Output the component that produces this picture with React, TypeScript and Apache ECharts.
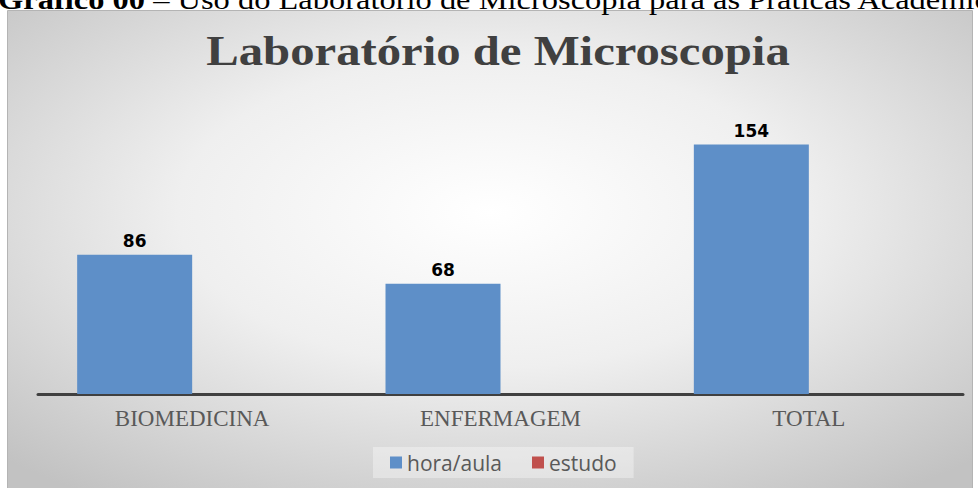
import React, { useEffect, useRef } from "react";
import * as echarts from "echarts";

const categories = ["BIOMEDICINA", "ENFERMAGEM", "TOTAL"];
const horaAula = [86, 68, 154];
const estudo: (number | null)[] = [null, null, null];
const seriesNames = ["hora/aula", "estudo"];
const chartTitle = "Laboratório de Microscopia";
const captionBold = "Gráfico 00";
const captionRest = " – Uso do Laboratório de Microscopia para as Práticas Acadêmicas";

export default function App() {
  const ref = useRef<HTMLDivElement>(null);
  useEffect(() => {
    document.body.style.margin = "0";
    const chart = echarts.init(ref.current!, null, { renderer: "svg" });
    chart.setOption({
      animation: false,
      backgroundColor: "#ffffff",
      graphic: [
        {
          type: "rect",
          z: -10,
          silent: true,
          shape: { x: 7.5, y: 10.5, width: 965, height: 480 },
          style: {
            fill: new echarts.graphic.RadialGradient(0.5, 0.42, 0.72, [
              { offset: 0, color: "#ffffff" },
              { offset: 0.45, color: "#efefef" },
              { offset: 1, color: "#c2c2c2" },
            ]),
            stroke: "#b4b4b4",
            lineWidth: 1,
          },
        },
        {
          type: "text",
          x: -2,
          y: 0,
          scaleX: 1.16,
          style: {
            rich: {
              b: { font: "bold 28px 'Liberation Serif'", fill: "#000" },
              n: { font: "28px 'Liberation Serif'", fill: "#000" },
            },
            text: `{b|${captionBold}}{n|${captionRest}}`,
            align: "left",
            verticalAlign: "middle",
          },
        },
        {
          type: "text",
          x: 498,
          y: 51,
          scaleX: 1.16,
          style: {
            text: chartTitle,
            font: "bold 42px 'Liberation Serif'",
            fill: "#404040",
            align: "center",
            verticalAlign: "middle",
          },
        },
      ],
      legend: {
        data: seriesNames,
        left: 373,
        top: 447,
        icon: "rect",
        itemWidth: 12,
        itemHeight: 12,
        itemGap: 30,
        padding: [5, 17, 5, 17],
        backgroundColor: "rgba(255,255,255,0.35)",
        textStyle: {
          fontFamily: "'Open Sans'",
          fontSize: 21,
          color: "#595959",
        },
      },
      grid: { left: 38, right: 15, top: 70, bottom: 94, containLabel: false },
      xAxis: {
        type: "category",
        data: categories,
        axisLine: { show: true, lineStyle: { color: "#404040", width: 3 } },
        axisTick: { show: false },
        axisLabel: {
          fontFamily: "'Liberation Serif'",
          fontSize: 23,
          color: "#595959",
          margin: 13,
        },
      },
      yAxis: {
        type: "value",
        min: 0,
        max: 200,
        show: false,
        splitLine: { show: false },
      },
      series: [
        {
          name: seriesNames[0],
          type: "bar",
          data: horaAula,
          barWidth: 115,
          barGap: "0%",
          itemStyle: { color: "#5e8fc8" },
          label: {
            show: true,
            position: "top",
            distance: 5,
            fontFamily: "'DejaVu Sans'",
            fontWeight: "bold",
            fontSize: 17,
            color: "#000000",
          },
        },
        {
          name: seriesNames[1],
          type: "bar",
          data: estudo,
          barWidth: 115,
          barGap: "0%",
          itemStyle: { color: "#c0504d" },
        },
      ],
    });
    return () => chart.dispose();
  }, []);
  return <div ref={ref} style={{ width: 978, height: 488 }} />;
}
